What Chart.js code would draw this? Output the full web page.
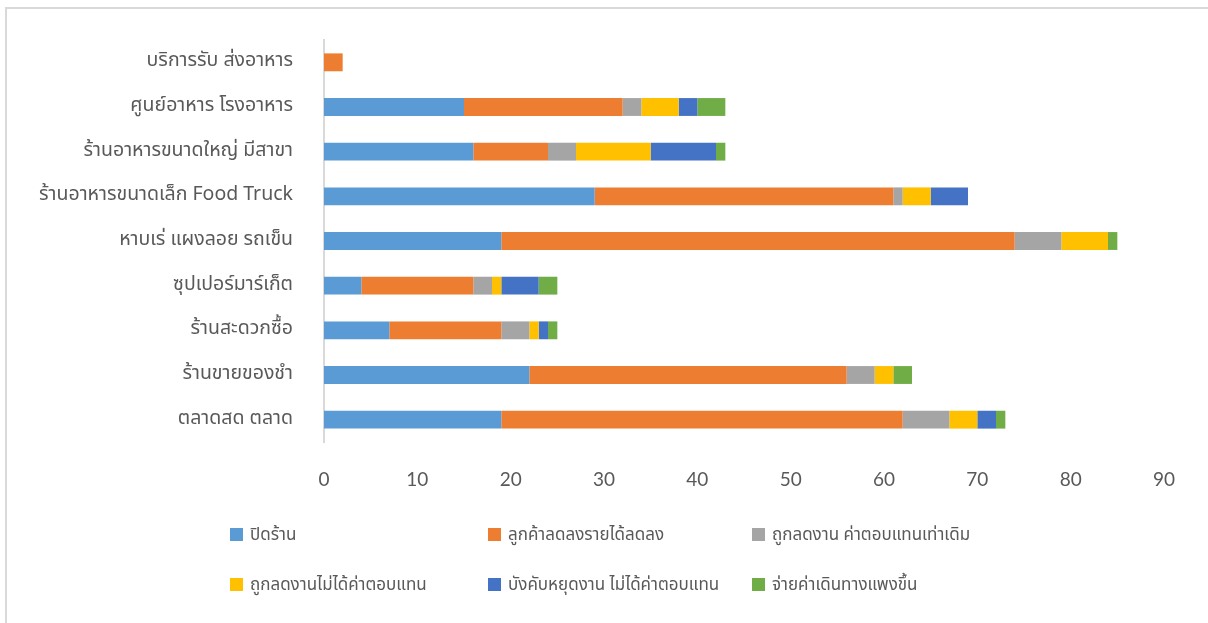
<!DOCTYPE html>
<html>
<head>
<meta charset="utf-8">
<script src="https://cdn.jsdelivr.net/npm/chart.js@4.4.1/dist/chart.umd.min.js"></script>
<style>
  html, body { margin: 0; padding: 0; background: #fff; }
  #wrap { position: relative; width: 1208px; height: 623px; overflow: hidden; }
  #frame { position: absolute; left: 5px; top: 7px; right: -4px; bottom: -4px;
           border-top: 2px solid #d9d9d9; border-left: 2px solid #d9d9d9; }
  canvas { position: absolute; left: 0; top: 0; }
  .lg { position: absolute; font: 17px "Noto Sans Thai", "Noto Sans", Tahoma, sans-serif; color: #595959;
        white-space: nowrap; line-height: 22px; }
  .lg i { display: inline-block; width: 13px; height: 13px; margin-right: 7px; vertical-align: -1px; }
</style>
</head>
<body>
<div id="wrap">
  <div id="frame"></div>
  <canvas id="chart" width="1208" height="623"></canvas>
  <div id="legend"></div>
</div>
<script>
// categories, top to bottom as shown
const categories = [
  'บริการรับ ส่งอาหาร',
  'ศูนย์อาหาร โรงอาหาร',
  'ร้านอาหารขนาดใหญ่ มีสาขา',
  'ร้านอาหารขนาดเล็ก Food Truck',
  'หาบเร่ แผงลอย รถเข็น',
  'ซุปเปอร์มาร์เก็ต',
  'ร้านสะดวกซื้อ',
  'ร้านขายของชำ',
  'ตลาดสด ตลาด'
];

const seriesNames = [
  'ปิดร้าน',
  'ลูกค้าลดลงรายได้ลดลง',
  'ถูกลดงาน ค่าตอบแทนเท่าเดิม',
  'ถูกลดงานไม่ได้ค่าตอบแทน',
  'บังคับหยุดงาน ไม่ได้ค่าตอบแทน',
  'จ่ายค่าเดินทางแพงขึ้น'
];

const closedShop   = [0, 15, 16, 29, 19, 4, 7, 22, 19];
const fewerCustomers = [2, 17, 8, 32, 55, 12, 12, 34, 43];
const lessWorkSamePay = [0, 2, 3, 1, 5, 2, 3, 3, 5];
const lessWorkNoPay = [0, 4, 8, 3, 5, 1, 1, 2, 3];
const forcedLeave  = [0, 2, 7, 4, 0, 4, 1, 0, 2];
const travelCost   = [0, 3, 1, 0, 1, 2, 1, 2, 1];

const xTicks = [0, 10, 20, 30, 40, 50, 60, 70, 80, 90];

const colors = ['#5B9BD5', '#ED7D31', '#A5A5A5', '#FFC000', '#4472C4', '#70AD47'];
const seriesValues = [closedShop, fewerCustomers, lessWorkSamePay, lessWorkNoPay, forcedLeave, travelCost];

const datasets = seriesNames.map((name, i) => ({
  label: name,
  data: seriesValues[i],
  backgroundColor: colors[i],
  borderWidth: 0,
  categoryPercentage: 1,
  barPercentage: 0.4
}));

const thaiFont = '"Noto Sans Thai", "Noto Sans", Tahoma, sans-serif';

new Chart(document.getElementById('chart').getContext('2d'), {
  type: 'bar',
  data: { labels: categories, datasets: datasets },
  options: {
    indexAxis: 'y',
    responsive: false,
    animation: false,
    layout: { padding: { top: 40, left: 7, right: 44, bottom: 121 } },
    plugins: {
      legend: { display: false },
      tooltip: { enabled: false }
    },
    scales: {
      x: {
        stacked: true,
        min: 0,
        max: xTicks[xTicks.length - 1],
        afterBuildTicks: (scale) => { scale.ticks = xTicks.map(v => ({ value: v })); },
        afterFit: (scale) => { scale.height = 60; },
        grid: { display: false },
        border: { display: false },
        ticks: { color: '#595959', padding: 18, font: { family: 'Lato, "Open Sans", sans-serif', size: 19 } }
      },
      y: {
        stacked: true,
        afterFit: (scale) => { scale.width = 317; },
        grid: { display: false },
        border: { display: true, color: '#d9d9d9', width: 2 },
        ticks: { color: '#595959', padding: 23, font: { family: thaiFont, size: 19.5 } }
      }
    }
  }
});

// legend laid out like the original: 3 columns, 2 rows
const legendCols = [230, 488, 752];
const legendRows = [524, 574];
const legendEl = document.getElementById('legend');
seriesNames.forEach((name, i) => {
  const d = document.createElement('div');
  d.className = 'lg';
  d.style.left = legendCols[i % 3] + 'px';
  d.style.top = legendRows[Math.floor(i / 3)] + 'px';
  d.innerHTML = `<i style="background:${colors[i]}"></i>${name}`;
  legendEl.appendChild(d);
});
</script>
</body>
</html>
